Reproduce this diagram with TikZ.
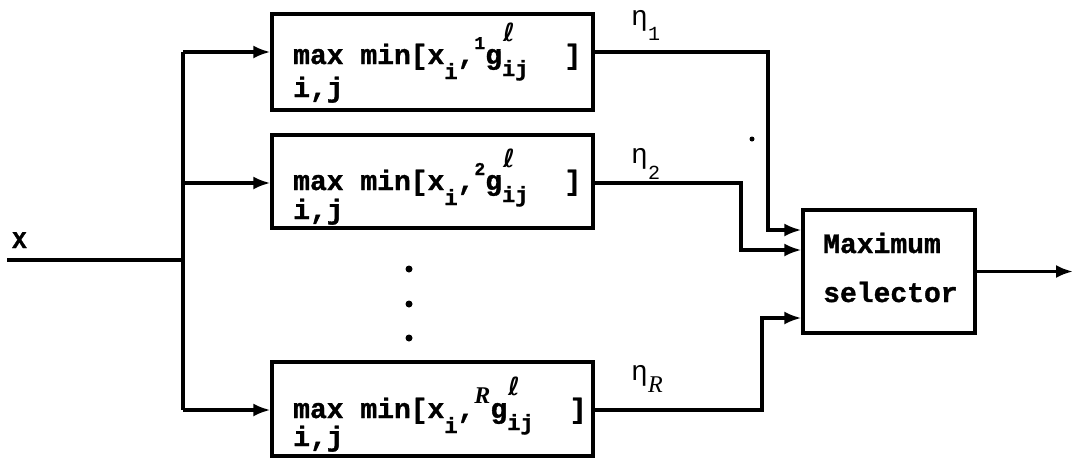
\documentclass[tikz,border=0pt]{standalone}
\usepackage{fontspec}
\usetikzlibrary{arrows.meta}
\newfontfamily\twfont{Liberation Mono}[BoldFeatures={FakeBold=1.2}]
\newfontfamily\ellfont{DejaVu Sans}
\newfontfamily\rfont{Liberation Serif}
\newcommand{\mainsz}{\fontsize{28}{32}\selectfont}
\newcommand{\subsz}{\fontsize{22}{22}\selectfont}
\newcommand{\supsz}{\fontsize{18}{18}\selectfont}
\newcommand{\Rit}{{\rfont\itshape\fontsize{24}{24}\selectfont R}}
\newcommand{\gform}[1]{max min[x\raisebox{-15pt}{\subsz i},\raisebox{15pt}{#1}g\rlap{\hspace{1pt}\raisebox{23pt}{\ellfont\bfseries\fontsize{25}{25}\selectfont ℓ}}\raisebox{-12pt}{\subsz ij}\hspace{36pt}]}
\tikzset{
  blk/.style={draw, line width=3.2pt, rectangle, inner sep=0pt},
  txt/.style={anchor=base west, inner sep=0pt, font=\twfont\bfseries\mainsz},
  eta/.style={anchor=base west, inner sep=0pt, font=\twfont\fontsize{28}{28}\selectfont},
  arr/.style={-{Latex[length=17pt,width=13pt]}},
  wire/.style={line width=3.2pt, line join=miter},
  dotn/.style={circle, fill, inner sep=0pt, minimum size=7pt},
}
\begin{document}
\begin{tikzpicture}[x=1pt,y=-1pt]
\useasboundingbox (0,0) rectangle (1074,461);
% boxes
\node[blk, minimum width=321pt, minimum height=96pt] (b1) at (432.5,62) {};
\node[blk, minimum width=321pt, minimum height=93pt] (b2) at (432.5,181.5) {};
\node[blk, minimum width=321pt, minimum height=94pt] (b3) at (432.5,409) {};
\node[blk, minimum width=172pt, minimum height=123pt] (sel) at (889,271.5) {};
% box texts
\node[txt] (f1) at (293,64) {\gform{\supsz 1}};
\node[txt] (s1) at (293,97) {i,j};
\node[txt] (f2) at (293,190) {\gform{\supsz 2}};
\node[txt] (s2) at (293,219) {i,j};
\node[txt] (f3) at (293,418) {\gform{\Rit}};
\node[txt] (s3) at (293,446) {i,j};
\node[txt] (m1) at (823,253) {Maximum};
\node[txt] (m2) at (823,302) {selector};
% labels
\node[txt, font=\twfont\bfseries\fontsize{24}{24}\selectfont] (xl) at (12,248) {X};
\node[eta] (e1) at (631,25) {η\raisebox{-15pt}{\fontsize{20}{20}\selectfont 1}};
\node[eta] (e2) at (631,163) {η\raisebox{-16pt}{\fontsize{20}{20}\selectfont 2}};
\node[eta] (e3) at (631,380) {η\raisebox{-12pt}{\Rit}};
% dots
\node[dotn] (d1) at (409,269) {};
\node[dotn] (d2) at (409,304) {};
\node[dotn] (d3) at (409,338) {};
\node[dotn, minimum size=5pt] (d4) at (752,139) {};
% input wiring
\coordinate (in) at (7,260);
\coordinate (jn) at (183,260);
\coordinate (t1) at (183,52);
\coordinate (t2) at (183,183);
\coordinate (t3) at (183,410);
\draw[wire] (in) -- (jn);
\draw[wire] (t1) -- (t3);
\draw[wire, arr] (t1) -- (t1 -| b1.west);
\draw[wire, arr] (t2) -- (t2 -| b2.west);
\draw[wire, arr] (t3) -- (t3 -| b3.west);
% output wiring
\coordinate (k1) at (768,230);
\coordinate (k2) at (741,250);
\coordinate (k3) at (762,318);
\draw[wire, arr] (t1 -| b1.east) -| (k1) -- (k1 -| sel.west);
\draw[wire, arr] (t2 -| b2.east) -| (k2) -- (k2 -| sel.west);
\draw[wire, arr] (t3 -| b3.east) -| (k3) -- (k3 -| sel.west);
\coordinate (out) at (1073,271.5);
\draw[wire, arr] (sel.east) -- (out);
\end{tikzpicture}
\end{document}
